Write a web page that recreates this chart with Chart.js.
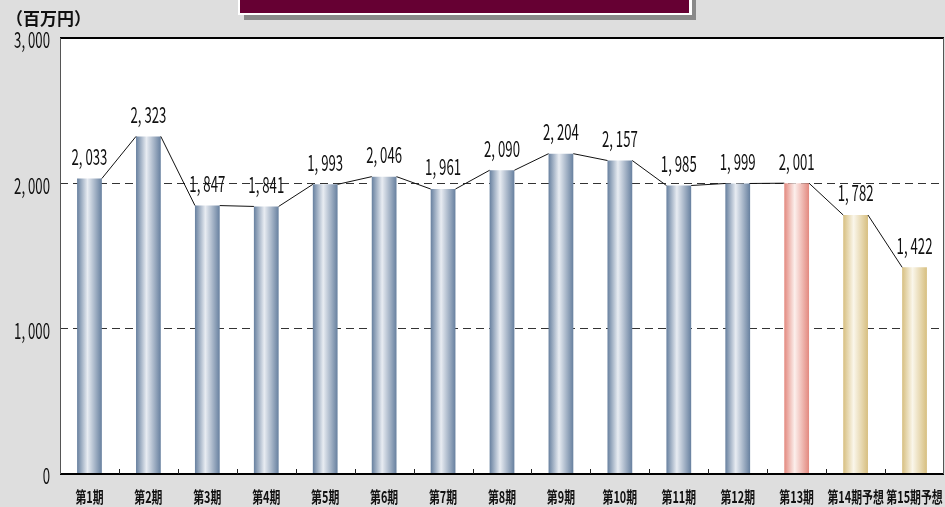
<!DOCTYPE html>
<html lang="ja">
<head>
  <meta charset="UTF-8" />
  <title>売上高推移</title>
  <style>
    html, body { margin: 0; padding: 0; background: #dedede; }
    canvas { display: block; }
  </style>
</head>
<body>
  <canvas id="salesChart" width="945" height="507"></canvas>

  <script src="https://cdn.jsdelivr.net/npm/chart.js"></script>
  <script>
    // 期ごとの売上高（百万円）
    const periods = ['第1期','第2期','第3期','第4期','第5期','第6期','第7期','第8期','第9期','第10期','第11期','第12期','第13期','第14期予想','第15期予想'];
    const sales = [2033, 2323, 1847, 1841, 1993, 2046, 1961, 2090, 2204, 2157, 1985, 1999, 2001, 1782, 1422];
    // 実績 / 当期 / 予想
    const kinds = ['past','past','past','past','past','past','past','past','past','past','past','past','current','plan','plan'];
    const yTicks = [0, 1000, 2000, 3000];
    const unitLabel = '（百万円）';

    const palette = {
      past:    { edge: '#67809f', mid: '#e8ecf2' },
      current: { edge: '#e3897f', mid: '#fcefec' },
      plan:    { edge: '#d7bf80', mid: '#faf6ea' }
    };

    const CAT_PCT = 0.42;
    const fmt = v => v.toLocaleString('en-US').replace(',', ', ');

    // 横方向に詰めた文字を描く
    function condensed(ctx, text, x, y, font, sx, align, color) {
      ctx.save();
      ctx.translate(x, y);
      ctx.scale(sx, 1);
      ctx.font = font;
      ctx.fillStyle = color || '#000';
      ctx.textAlign = align;
      ctx.textBaseline = 'middle';
      ctx.fillText(text, 0, 0);
      ctx.restore();
    }

    // 円柱風のグラデーション
    function barFill(c) {
      const chart = c.chart;
      const area = chart.chartArea;
      const x = chart.scales.x;
      if (!area || !x || c.dataIndex === undefined) return palette.past.edge;
      const cx = x.getPixelForValue(c.dataIndex);
      const half = (area.width / periods.length) * CAT_PCT / 2;
      const p = palette[kinds[c.dataIndex]];
      const g = chart.ctx.createLinearGradient(cx - half, 0, cx + half, 0);
      g.addColorStop(0, p.edge);
      g.addColorStop(0.42, p.mid);
      g.addColorStop(1, p.edge);
      return g;
    }

    const framePlugin = {
      id: 'frame',
      beforeDraw(chart) {
        const { ctx, chartArea: a } = chart;
        ctx.save();
        ctx.fillStyle = '#dedede';
        ctx.fillRect(0, 0, chart.width, chart.height);
        ctx.fillStyle = '#fff';
        ctx.fillRect(a.left, a.top, a.right - a.left, a.bottom - a.top);

        // タイトル枠
        ctx.fillStyle = '#8a8a8a';
        ctx.fillRect(244, 0, 452, 20);
        ctx.fillStyle = '#fff';
        ctx.fillRect(238, 0, 454, 15);
        ctx.fillStyle = '#660033';
        ctx.fillRect(240, 0, 449, 13);
        ctx.restore();
      },
      afterDatasetsDraw(chart) {
        const { ctx } = chart;
        const bars = chart.getDatasetMeta(0).data;
        ctx.save();
        // 棒の上端を結ぶ区分線
        ctx.strokeStyle = '#111';
        ctx.lineWidth = 1;
        for (let i = 0; i < bars.length - 1; i++) {
          const a = bars[i], b = bars[i + 1];
          ctx.beginPath();
          ctx.moveTo(a.x + a.width / 2, a.y);
          ctx.lineTo(b.x - b.width / 2, b.y);
          ctx.stroke();
        }
        ctx.restore();
      },
      afterDraw(chart) {
        const { ctx, chartArea: a, scales: { x, y } } = chart;
        const bars = chart.getDatasetMeta(0).data;
        ctx.save();

        // 枠線
        ctx.strokeStyle = '#000';
        ctx.lineWidth = 2;
        ctx.beginPath();
        ctx.moveTo(a.left, a.top);
        ctx.lineTo(a.right, a.top);
        ctx.moveTo(a.left, a.bottom);
        ctx.lineTo(a.right, a.bottom);
        ctx.stroke();
        ctx.lineWidth = 1;
        ctx.strokeStyle = '#555';
        ctx.beginPath();
        ctx.moveTo(a.left + 0.5, a.top);
        ctx.lineTo(a.left + 0.5, a.bottom);
        ctx.moveTo(a.right - 0.5, a.top);
        ctx.lineTo(a.right - 0.5, a.bottom);
        ctx.stroke();

        // 区切りの目盛り
        ctx.strokeStyle = '#222';
        ctx.beginPath();
        for (let i = 0; i < periods.length - 1; i++) {
          const px = Math.round((x.getPixelForValue(i) + x.getPixelForValue(i + 1)) / 2) + 0.5;
          ctx.moveTo(px, a.bottom);
          ctx.lineTo(px, a.bottom - 5);
        }
        ctx.stroke();

        // 値ラベル
        bars.forEach((bar, i) => {
          condensed(ctx, fmt(sales[i]), bar.x, bar.y - 22, '22px "Noto Sans CJK JP"', 0.6, 'center', '#111');
        });

        // 縦軸ラベル
        yTicks.forEach(v => {
          condensed(ctx, fmt(v), 50, y.getPixelForValue(v) + 2, '22px "Noto Sans CJK JP"', 0.6, 'right', '#111');
        });

        // 横軸ラベル
        periods.forEach((p, i) => {
          condensed(ctx, p, x.getPixelForValue(i), 497, 'bold 16px "Noto Sans CJK JP"', 0.68, 'center', '#111');
        });

        // 単位
        ctx.font = 'bold 17px "Noto Sans CJK JP"';
        ctx.fillStyle = '#111';
        ctx.textAlign = 'left';
        ctx.textBaseline = 'middle';
        ctx.fillText(unitLabel, 6, 19);
        ctx.restore();
      }
    };

    new Chart(document.getElementById('salesChart'), {
      type: 'bar',
      data: {
        labels: periods,
        datasets: [{
          data: sales,
          backgroundColor: barFill,
          borderWidth: 0,
          barPercentage: 1,
          categoryPercentage: CAT_PCT
        }]
      },
      options: {
        responsive: false,
        animation: false,
        layout: { padding: { top: 38, left: 60, right: 1, bottom: 33 } },
        plugins: { legend: { display: false }, tooltip: { enabled: false } },
        scales: {
          x: {
            ticks: { display: false },
            grid: { display: false, drawTicks: false },
            border: { display: false }
          },
          y: {
            min: 0,
            max: 3000,
            afterBuildTicks: s => { s.ticks = yTicks.map(v => ({ value: v })); },
            ticks: { display: false },
            grid: {
              drawTicks: false,
              lineWidth: 1,
              color: c => (c.tick && c.tick.value > 0 && c.tick.value < 3000) ? '#333' : 'rgba(0,0,0,0)'
            },
            border: { display: false, dash: [8, 5] }
          }
        }
      },
      plugins: [framePlugin]
    });
  </script>
</body>
</html>
